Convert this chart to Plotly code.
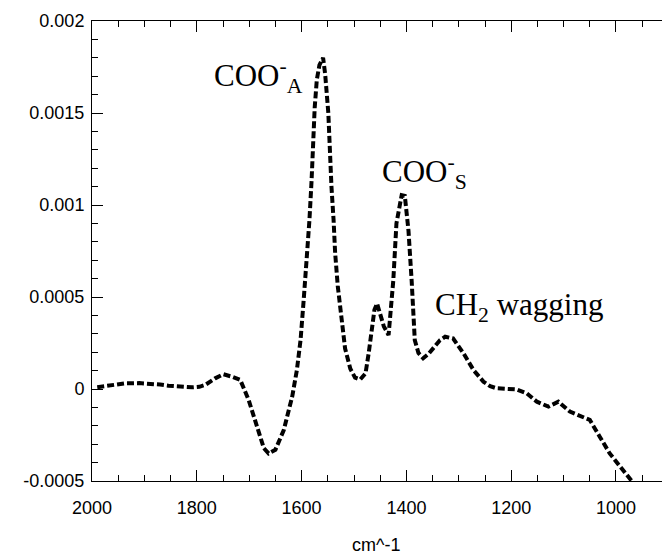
import plotly.graph_objects as go

wavenumber = [1990, 1960, 1936, 1910, 1892, 1870, 1854, 1830, 1809, 1795, 1784, 1765, 1749, 1733,
              1717, 1701, 1685, 1672, 1663, 1650, 1634, 1618, 1609, 1602, 1596, 1590, 1585, 1581,
              1578, 1575, 1571, 1566, 1559, 1555, 1549, 1546, 1543, 1539, 1536, 1531, 1524, 1517,
              1507, 1498, 1488, 1478, 1472, 1466, 1461, 1456, 1450, 1443, 1434, 1425, 1419, 1409,
              1403, 1396, 1390, 1384, 1377, 1368, 1358, 1349, 1336, 1326, 1311, 1291, 1272, 1253,
              1240, 1228, 1210, 1190, 1170, 1151, 1129, 1110, 1088, 1062, 1050, 1031, 1012, 992,
              973, 970]
absorbance = [0.000010, 0.000022, 0.000031, 0.000032, 0.000030, 0.000024, 0.000018, 0.000012,
              0.000009, 0.000012, 0.000022, 0.000058, 0.000080, 0.000067, 0.000049, -0.000060,
              -0.000205, -0.000322, -0.000350, -0.000330, -0.000223, -0.000042, 0.000103, 0.000266,
              0.000484, 0.000702, 0.000920, 0.001130, 0.001350, 0.001530, 0.001680, 0.001760,
              0.001800, 0.001710, 0.001500, 0.001280, 0.001100, 0.000920, 0.000740, 0.000560,
              0.000375, 0.000220, 0.000110, 0.000062, 0.000052, 0.000085, 0.000194, 0.000340,
              0.000430, 0.000465, 0.000410, 0.000340, 0.000293, 0.000590, 0.000900, 0.001054,
              0.001050, 0.000860, 0.000590, 0.000266, 0.000196, 0.000167, 0.000190, 0.000221,
              0.000265, 0.000284, 0.000275, 0.000194, 0.000103, 0.000040, 0.000015, 0.000004,
              0.000002, -0.000002, -0.000024, -0.000069, -0.000096, -0.000069, -0.000123,
              -0.000150, -0.000168, -0.000259, -0.000350, -0.000422, -0.000485, -0.000500]

x_tick_vals = [2000, 1800, 1600, 1400, 1200, 1000]
x_tick_text = ["2000", "1800", "1600", "1400", "1200", "1000"]
y_tick_vals = [-0.0005, 0, 0.0005, 0.001, 0.0015, 0.002]
y_tick_text = ["-0.0005", "0", "0.0005", "0.001", "0.0015", "0.002"]
x_title = "cm^-1"

labels = ["COO<sup>-</sup><sub>A</sub>", "COO<sup>-</sup><sub>S</sub>", "CH<sub>2</sub> wagging"]
label_x = [1771, 1450, 1349]
label_y = [0.00170, 0.00118, 0.000446]

fig = go.Figure()
fig.add_trace(go.Scatter(x=wavenumber, y=absorbance, mode="lines",
                         line=dict(color="black", width=4, dash="7px,3px"),
                         showlegend=False, hoverinfo="skip"))

for t, xx, yy in zip(labels, label_x, label_y):
    fig.add_annotation(x=xx, y=yy, xref="x", yref="y", text=t, showarrow=False,
                       xanchor="left", yanchor="middle",
                       font=dict(family="Liberation Serif, Times New Roman, serif", size=31, color="black"))

axis_font = dict(family="Liberation Sans, Arial, sans-serif", size=18, color="black")

fig.add_annotation(x=0.4985, y=-0.139, xref="paper", yref="paper", text=x_title, showarrow=False,
                   xanchor="center", yanchor="middle", font=axis_font)

fig.update_xaxes(range=[2000, 912.2], autorange=False,
                 tickmode="array", tickvals=x_tick_vals, ticktext=x_tick_text,
                 ticks="inside", ticklen=11, tickwidth=1, tickcolor="black",
                 minor=dict(ticks="inside", ticklen=6, dtick=50, tick0=2000, tickcolor="black", tickwidth=1),
                 showline=True, linecolor="black", linewidth=1, mirror="allticks",
                 showgrid=False, zeroline=False, tickfont=axis_font, ticklabelstandoff=10,
                 automargin=False)
fig.update_yaxes(range=[-0.0005, 0.002], autorange=False,
                 tickmode="array", tickvals=y_tick_vals, ticktext=y_tick_text,
                 ticks="inside", ticklen=11, tickwidth=1, tickcolor="black",
                 minor=dict(ticks="inside", ticklen=6, dtick=0.0001, tick0=0, tickcolor="black", tickwidth=1),
                 showline=True, linecolor="black", linewidth=1, mirror=False,
                 showgrid=False, zeroline=False, tickfont=axis_font, ticklabelstandoff=3,
                 automargin=False)

fig.update_layout(width=662, height=556, margin=dict(l=92, r=0, t=21, b=75),
                  plot_bgcolor="white", paper_bgcolor="white")

fig.write_html("out.html", config={"displayModeBar": False},
               post_script="document.body.style.margin='0';document.body.style.overflow='hidden';")
